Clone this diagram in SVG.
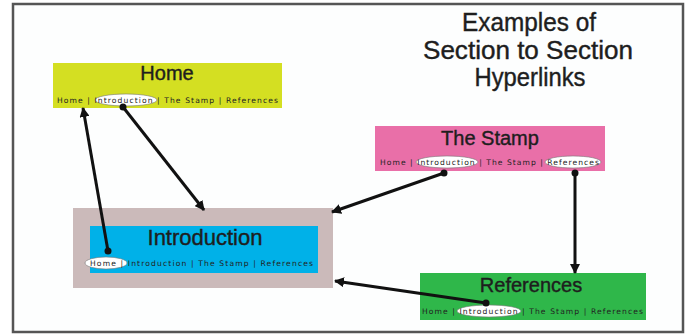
<svg xmlns="http://www.w3.org/2000/svg" width="687" height="336" viewBox="0 0 687 336">
<style>
.ttl{font-family:"Liberation Sans",Arial,sans-serif;fill:#1e1e1e;stroke:#1e1e1e;stroke-width:0.4;text-anchor:middle}
.nav{font-family:"DejaVu Sans",sans-serif;font-size:7.6px;fill:#222}
.ov{fill:#fff;stroke:#777;stroke-width:0.6}
.con{stroke:#111;stroke-width:3;fill:none}
.dot{fill:#111}
</style>
<defs>
<marker id="ah" viewBox="0 0 10 10" refX="9" refY="5" markerWidth="10" markerHeight="10" markerUnits="userSpaceOnUse" orient="auto">
<path d="M0,0 L10,5 L0,10 z" fill="#111"/>
</marker>
</defs>
<rect x="0" y="0" width="687" height="336" fill="#fff"/>
<rect x="13" y="4" width="670" height="328" fill="#fdfefe" stroke="#555" stroke-width="2.5"/>
<g id="title">
<text class="ttl" x="529" y="31" font-size="25" textLength="134" lengthAdjust="spacingAndGlyphs">Examples of</text>
<text class="ttl" x="528" y="59" font-size="25" textLength="210" lengthAdjust="spacingAndGlyphs">Section to Section</text>
<text class="ttl" x="530" y="86" font-size="25" textLength="111" lengthAdjust="spacingAndGlyphs">Hyperlinks</text>
</g>
<g id="home">
<rect x="53" y="63" width="229" height="45" fill="#d4df22"/>
<text class="ttl" x="167" y="80" font-size="20">Home</text>
<ellipse class="ov" cx="126" cy="100" rx="31" ry="6"/>
<text class="nav" x="57" y="103" textLength="221" lengthAdjust="spacing">Home | Introduction | The Stamp | References</text>
</g>
<g id="stamp">
<rect x="375" y="126" width="230" height="45" fill="#e96fa8"/>
<text class="ttl" x="490" y="145" font-size="20">The Stamp</text>
<ellipse class="ov" cx="447" cy="162" rx="31" ry="6"/>
<ellipse class="ov" cx="573" cy="162" rx="28" ry="6"/>
<text class="nav" x="380" y="165" textLength="219" lengthAdjust="spacing">Home | Introduction | The Stamp | References</text>
</g>
<g id="introduction">
<rect x="73" y="208" width="260" height="80" fill="#cbbaba"/>
<rect x="90" y="226" width="228" height="47" fill="#00b1e8"/>
<text class="ttl" x="205" y="245" font-size="22">Introduction</text>
<ellipse class="ov" cx="106" cy="263" rx="21" ry="6"/>
<text class="nav" x="90" y="266" textLength="223" lengthAdjust="spacing">Home | Introduction | The Stamp | References</text>
</g>
<g id="references">
<rect x="420" y="273" width="226" height="47" fill="#2fb74a"/>
<text class="ttl" x="531" y="292" font-size="20">References</text>
<ellipse class="ov" cx="489" cy="311" rx="32" ry="6"/>
<text class="nav" x="422" y="314" textLength="221" lengthAdjust="spacing">Home | Introduction | The Stamp | References</text>
</g>
<g id="connectors">
<line class="con" x1="108" y1="251" x2="83" y2="108" marker-end="url(#ah)"/>
<circle class="dot" cx="108" cy="251" r="3.5"/>
<line class="con" x1="123" y1="107" x2="204" y2="210" marker-end="url(#ah)"/>
<circle class="dot" cx="123" cy="107" r="3.5"/>
<line class="con" x1="444" y1="173" x2="332" y2="212" marker-end="url(#ah)"/>
<circle class="dot" cx="444" cy="173" r="3.5"/>
<line class="con" x1="575" y1="173" x2="575" y2="273" marker-end="url(#ah)"/>
<circle class="dot" cx="575" cy="173" r="3.5"/>
<line class="con" x1="486" y1="303" x2="335" y2="281" marker-end="url(#ah)"/>
<circle class="dot" cx="486" cy="303" r="3.5"/>
</g>
</svg>
